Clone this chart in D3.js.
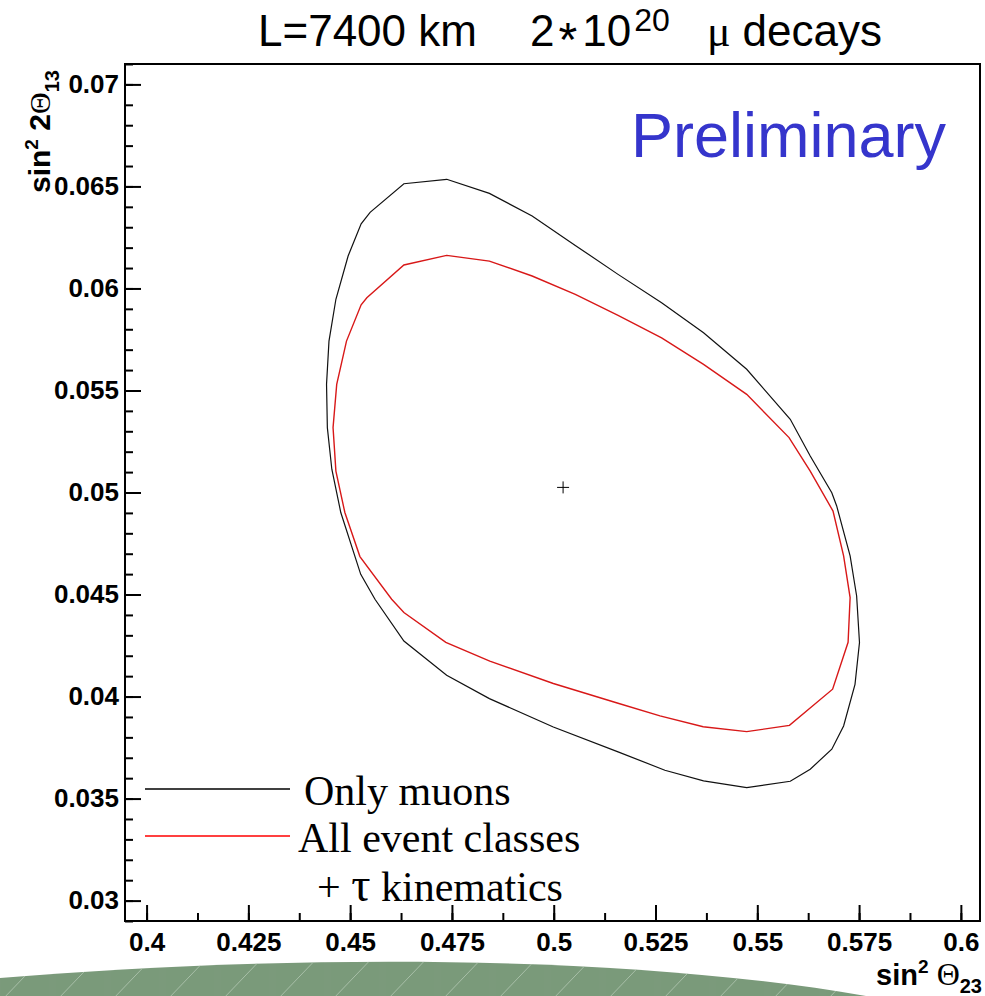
<!DOCTYPE html>
<html>
<head>
<meta charset="utf-8">
<script src="https://cdn.jsdelivr.net/npm/d3@7"></script>
<style>
  body { margin: 0; background: #fff; }
  text { font-family: "Liberation Sans", Arial, sans-serif; }
</style>
</head>
<body>
<svg id="chart" width="985" height="996"></svg>
<script>
// Contour: only muon events
const muonX = [0.4737, 0.4842, 0.4947, 0.5053, 0.5158, 0.5265, 0.5368, 0.5474, 0.5581, 0.5630,
               0.5683, 0.5695, 0.5728, 0.5744, 0.5751, 0.5740, 0.5712, 0.5683, 0.5630, 0.5581,
               0.5474, 0.5368, 0.5273, 0.5158, 0.4999, 0.4842, 0.4737, 0.4632, 0.4561, 0.4526,
               0.4477, 0.4455, 0.4444, 0.4442, 0.4448, 0.4465, 0.4495, 0.4527, 0.4549, 0.4632];
const muonY = [0.06535, 0.06466, 0.06355, 0.06211, 0.06069, 0.05930, 0.05783, 0.05604, 0.05359, 0.05179,
               0.04999, 0.04934, 0.04689, 0.04493, 0.04265, 0.04060, 0.03856, 0.03742, 0.03644, 0.03585,
               0.03554, 0.03587, 0.03639, 0.03729, 0.03851, 0.03990, 0.04104, 0.04272, 0.04477, 0.04599,
               0.04902, 0.05114, 0.05318, 0.05530, 0.05742, 0.05947, 0.06159, 0.06317, 0.06373, 0.06513];

// Contour: all event classes + tau kinematics
const allX = [0.4737, 0.4842, 0.4947, 0.5053, 0.5158, 0.5265, 0.5368, 0.5474, 0.5578, 0.5630,
              0.5686, 0.5712, 0.5728, 0.5723, 0.5685, 0.5579, 0.5474, 0.5367, 0.5261, 0.5158,
              0.4999, 0.4843, 0.4735, 0.4632, 0.4602, 0.4524, 0.4487, 0.4465, 0.4458, 0.4467,
              0.4491, 0.4527, 0.4541, 0.4632];
const allY = [0.06162, 0.06134, 0.06061, 0.05971, 0.05868, 0.05758, 0.05628, 0.05481, 0.05269, 0.05105,
              0.04909, 0.04689, 0.04485, 0.04266, 0.04036, 0.03859, 0.03828, 0.03852, 0.03905, 0.03967,
              0.04064, 0.04174, 0.04266, 0.04412, 0.04477, 0.04686, 0.04902, 0.05105, 0.05318, 0.05530,
              0.05742, 0.05920, 0.05954, 0.06115];

// Best-fit point
const bestX = [0.5023];
const bestY = [0.05025];

// Axis ticks
const xMajor = [0.4, 0.425, 0.45, 0.475, 0.5, 0.525, 0.55, 0.575, 0.6];
const xLabels = ["0.4", "0.425", "0.45", "0.475", "0.5", "0.525", "0.55", "0.575", "0.6"];
const yMajor = [0.03, 0.035, 0.04, 0.045, 0.05, 0.055, 0.06, 0.065, 0.07];
const yLabels = ["0.03", "0.035", "0.04", "0.045", "0.05", "0.055", "0.06", "0.065", "0.07"];

const svg = d3.select("#chart");
const frame = { left: 125, right: 980, top: 64, bottom: 921 };

const x = d3.scaleLinear().domain([0.3947, 0.6047]).range([frame.left, frame.right]);
const y = d3.scaleLinear().domain([0.0290, 0.0710]).range([frame.bottom, frame.top]);

// Decorative green band along the bottom edge
const bandPath = "M0,978 C250,957 600,950 866,996 L0,996 Z";
const band = svg.append("g");
band.append("clipPath").attr("id", "bandClip").append("path").attr("d", bandPath);
band.append("path").attr("d", bandPath).attr("fill", "#7b9a7b");
const hatch = band.append("g").attr("clip-path", "url(#bandClip)");
d3.range(0, 20).forEach(i => {
  const x0 = 2 + i * 55;
  hatch.append("line")
    .attr("x1", x0).attr("y1", 1000).attr("x2", x0 + 46).attr("y2", 952)
    .attr("stroke", "#b4c8b4").attr("stroke-width", 1).attr("opacity", 0.8);
});

// Minor ticks
const xMinor = d3.range(0.3875, 0.605, 0.0125).filter(v => x(v) > frame.left + 1 && x(v) < frame.right - 1);
const yMinor = d3.range(0.029, 0.0712, 0.001).filter(v => y(v) >= frame.top - 0.5 && y(v) <= frame.bottom + 0.5);

svg.append("g").attr("transform", `translate(0,${frame.bottom})`)
  .call(d3.axisBottom(x).tickValues(xMinor).tickSizeInner(-8).tickSizeOuter(0).tickFormat(""))
  .call(g => g.select(".domain").remove())
  .call(g => g.selectAll("line").attr("stroke", "#000").attr("stroke-width", 2));

svg.append("g").attr("transform", `translate(${frame.left},0)`)
  .call(d3.axisLeft(y).tickValues(yMinor).tickSizeInner(-8).tickSizeOuter(0).tickFormat(""))
  .call(g => g.select(".domain").remove())
  .call(g => g.selectAll("line").attr("stroke", "#000").attr("stroke-width", 2));

// Major ticks with labels
const styleLabels = g => g.selectAll("text").attr("fill", "#000")
  .style("font-family", "'Liberation Sans', Arial, sans-serif")
  .style("font-weight", "bold").style("font-size", "26px");

svg.append("g").attr("transform", `translate(0,${frame.bottom})`)
  .call(d3.axisBottom(x).tickValues(xMajor).tickSizeInner(-16).tickSizeOuter(0).tickPadding(12)
        .tickFormat((d, i) => xLabels[i]))
  .call(g => g.select(".domain").remove())
  .call(g => g.selectAll("line").attr("stroke", "#000").attr("stroke-width", 2))
  .call(styleLabels);

svg.append("g").attr("transform", `translate(${frame.left},0)`)
  .call(d3.axisLeft(y).tickValues(yMajor).tickSizeInner(-16).tickSizeOuter(0).tickPadding(6)
        .tickFormat((d, i) => yLabels[i]))
  .call(g => g.select(".domain").remove())
  .call(g => g.selectAll("line").attr("stroke", "#000").attr("stroke-width", 2))
  .call(styleLabels);

// Frame
svg.append("rect")
  .attr("x", frame.left).attr("y", frame.top)
  .attr("width", frame.right - frame.left).attr("height", frame.bottom - frame.top)
  .attr("fill", "none").attr("stroke", "#000").attr("stroke-width", 2);

// Contours
const line = d3.line().x(d => x(d[0])).y(d => y(d[1])).curve(d3.curveLinearClosed);
svg.append("path")
  .attr("d", line(d3.zip(muonX, muonY)))
  .attr("fill", "none").attr("stroke", "#111").attr("stroke-width", 1.2);
svg.append("path")
  .attr("d", line(d3.zip(allX, allY)))
  .attr("fill", "none").attr("stroke", "#d81818").attr("stroke-width", 1.4);

// Best-fit marker
svg.selectAll("path.best").data(d3.zip(bestX, bestY)).join("path")
  .attr("class", "best")
  .attr("d", d => `M${x(d[0]) - 6},${y(d[1])}h12M${x(d[0])},${y(d[1]) - 6}v12`)
  .attr("stroke", "#000").attr("stroke-width", 1);

// Title
const titleSize = 44;
svg.append("text").attr("x", 258).attr("y", 46)
  .style("font-size", titleSize + "px").attr("fill", "#000").text("L=7400 km");
const t2 = svg.append("text").attr("x", 530).attr("y", 46)
  .style("font-size", titleSize + "px").attr("fill", "#000");
t2.append("tspan").text("2");
t2.append("tspan").attr("dy", 10).attr("dx", 4).style("font-size", "48px").text("*");
t2.append("tspan").attr("dy", -10).attr("dx", 5).text("10");
t2.append("tspan").attr("dy", -15).attr("dx", 3).style("font-size", "32px").text("20");
svg.append("text").attr("x", 882).attr("y", 46).attr("text-anchor", "end")
  .style("font-size", titleSize + "px").attr("fill", "#000")
  .call(t => {
    t.append("tspan").style("font-family", "'Liberation Serif', serif").text("\u03bc");
    t.append("tspan").attr("dx", 12).text("decays");
  });

// Watermark label
svg.append("text").attr("x", 631).attr("y", 157)
  .style("font-size", "63px").attr("fill", "#3535cc").text("Preliminary");

// Axis titles
const yTitle = svg.append("text")
  .attr("transform", "translate(50,193) rotate(-90)")
  .attr("xml:space", "preserve")
  .style("font-weight", "bold").style("font-size", "30px").attr("fill", "#000");
yTitle.append("tspan").text("sin");
yTitle.append("tspan").attr("dy", -12).style("font-size", "19px").text("2");
yTitle.append("tspan").attr("dy", 12).text(" 2");
yTitle.append("tspan").style("font-family", "'Liberation Serif', serif").style("font-weight", "normal").text("\u0398");
yTitle.append("tspan").attr("dy", 9).style("font-size", "20px").text("13");

const xTitle = svg.append("text")
  .attr("x", 982).attr("y", 985).attr("text-anchor", "end")
  .attr("xml:space", "preserve")
  .style("font-weight", "bold").style("font-size", "29px").attr("fill", "#000");
xTitle.append("tspan").text("sin");
xTitle.append("tspan").attr("dy", -12).style("font-size", "19px").text("2");
xTitle.append("tspan").attr("dy", 12).text(" ");
xTitle.append("tspan").style("font-family", "'Liberation Serif', serif").style("font-weight", "normal")
  .style("font-size", "32px").text("\u0398");
xTitle.append("tspan").attr("dy", 8).style("font-size", "20px").text("23");

// Legend
const legendFont = "'Liberation Serif', 'Times New Roman', serif";
svg.append("line").attr("x1", 145).attr("x2", 290).attr("y1", 789).attr("y2", 789)
  .attr("stroke", "#000").attr("stroke-width", 1.5);
svg.append("line").attr("x1", 145).attr("x2", 290).attr("y1", 836).attr("y2", 836)
  .attr("stroke", "#ff0000").attr("stroke-width", 1.5);
const legendText = [
  { t: "Only muons", x: 304, y: 805 },
  { t: "All event classes", x: 298, y: 852 }
];
svg.selectAll("text.legend").data(legendText).join("text")
  .attr("class", "legend")
  .attr("x", d => d.x).attr("y", d => d.y)
  .style("font-family", legendFont).style("font-size", "42px").attr("fill", "#000")
  .text(d => d.t);
const tauLine = svg.append("text").attr("x", 317).attr("y", 901)
  .style("font-family", legendFont).style("font-size", "42px").attr("fill", "#000");
tauLine.append("tspan").text("+ ");
tauLine.append("tspan").style("font-size", "48px").text("\u03c4");
tauLine.append("tspan").text(" kinematics");
</script>
</body>
</html>
